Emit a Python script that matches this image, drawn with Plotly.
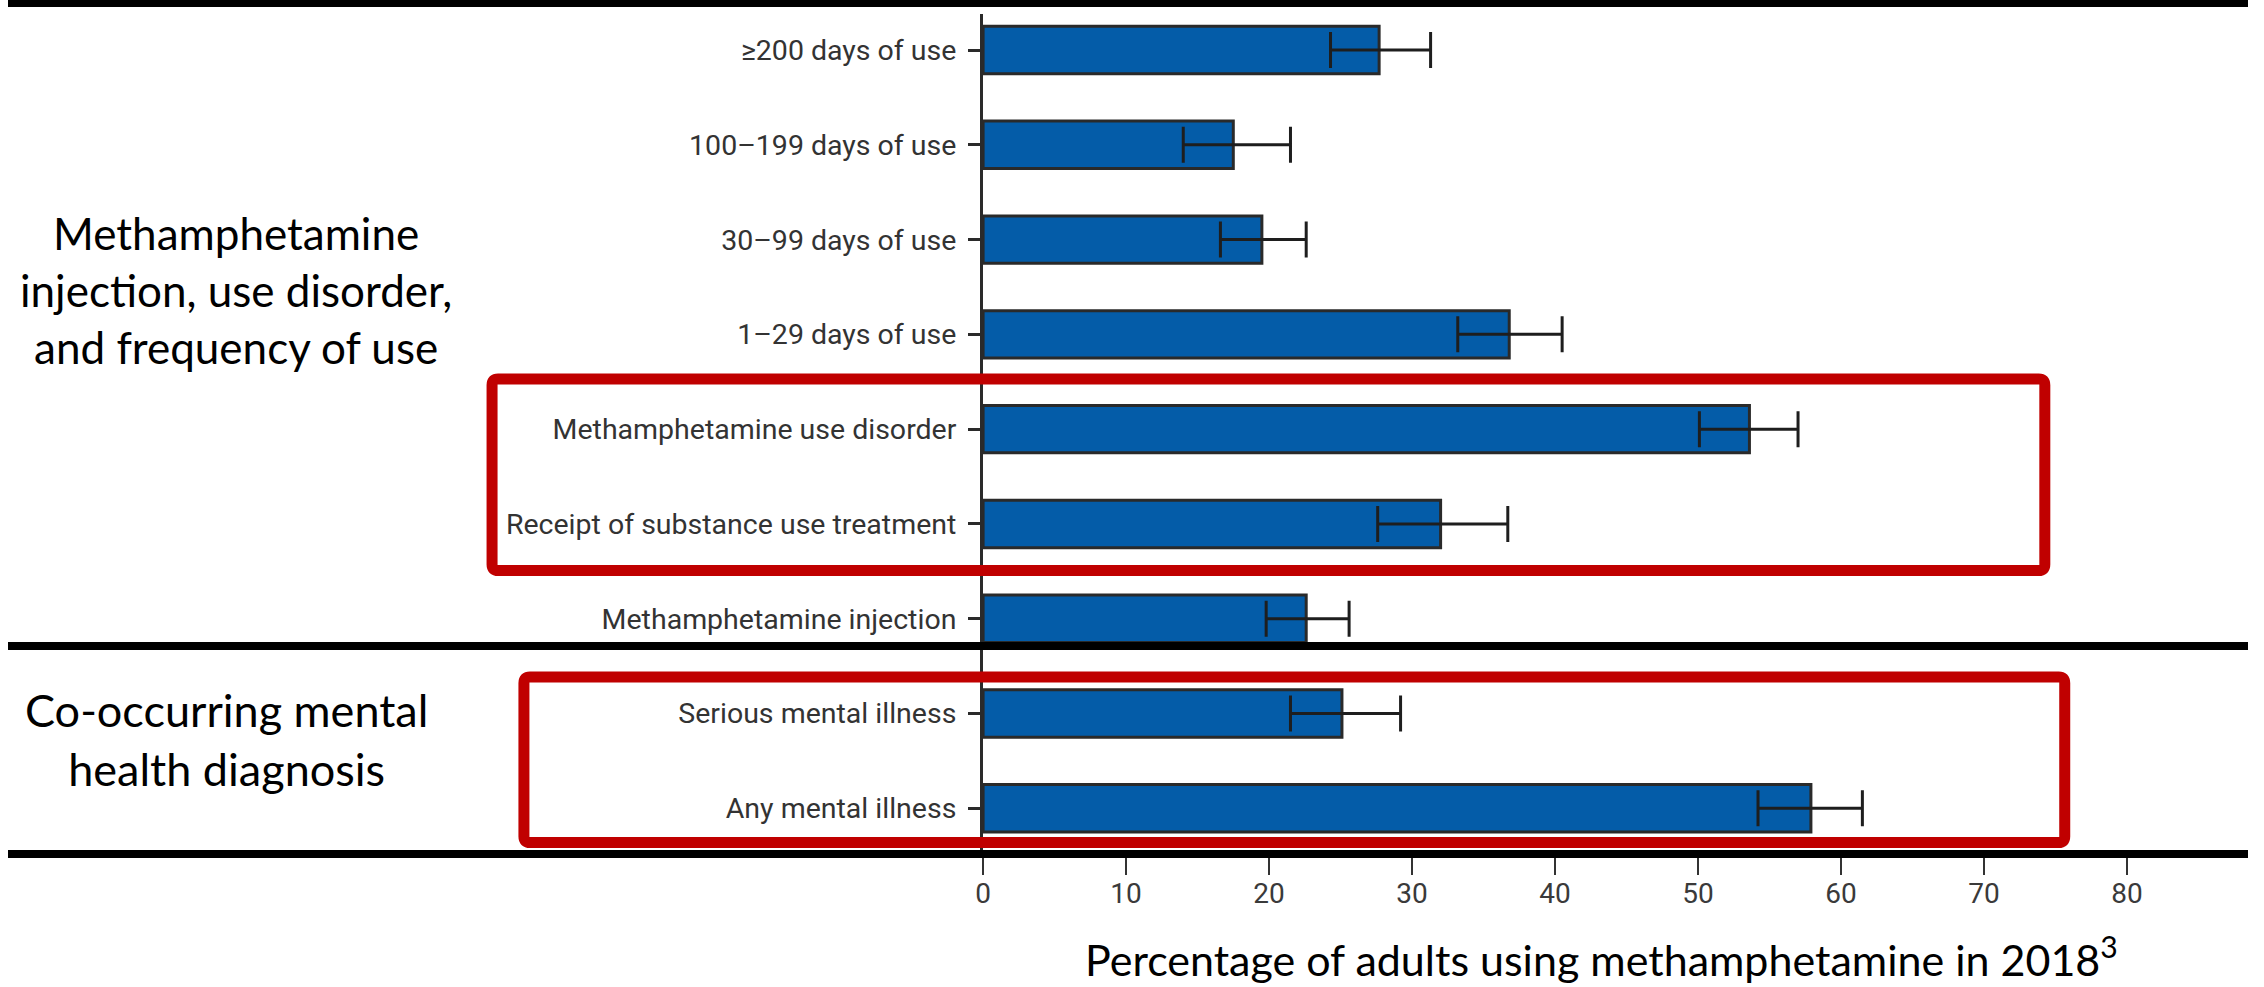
import plotly.graph_objects as go

# ---------------- data ----------------
categories = [
    "≥200 days of use",
    "100–199 days of use",
    "30–99 days of use",
    "1–29 days of use",
    "Methamphetamine use disorder",
    "Receipt of substance use treatment",
    "Methamphetamine injection",
    "Serious mental illness",
    "Any mental illness",
]
values = [27.7, 17.5, 19.5, 36.8, 53.6, 32.0, 22.6, 25.1, 57.9]
ci_low = [24.3, 14.0, 16.6, 33.2, 50.1, 27.6, 19.8, 21.5, 54.2]
ci_high = [31.3, 21.5, 22.6, 40.5, 57.0, 36.7, 25.6, 29.2, 61.5]
x_ticks = [0, 10, 20, 30, 40, 50, 60, 70, 80]
group_labels = [
    "Methamphetamine<br>injection, use disorder,<br>and frequency of use",
    "Co-occurring mental<br>health diagnosis",
]
x_title = "Percentage of adults using methamphetamine in 2018<sup>3</sup>"

# ---------------- layout helpers ----------------
W, H = 2264, 987
WX = 2249  # effective drawn width observed in the viewer


def px_x(x):
    return x / WX


def px_y(y):
    return 1 - y / H


NARROW = "Roboto, Liberation Sans, sans-serif"
HUMAN = "Lato, Open Sans, sans-serif"

err_plus = [h - v for h, v in zip(ci_high, values)]
err_minus = [v - l for v, l in zip(values, ci_low)]

fig = go.Figure()
fig.add_trace(
    go.Bar(
        y=categories,
        x=values,
        orientation="h",
        width=0.5,
        marker=dict(color="#045CA8", line=dict(color="#2a2a2a", width=3)),
        error_x=dict(
            type="data",
            symmetric=False,
            array=err_plus,
            arrayminus=err_minus,
            color="#1e1e1e",
            thickness=3,
            width=18,
        ),
        hoverinfo="skip",
    )
)

shapes = []
# black separator lines
for yc, th in [(3.5, 7), (646, 8), (854, 8)]:
    shapes.append(
        dict(
            type="line",
            xref="paper",
            yref="paper",
            x0=0,
            x1=1,
            y0=px_y(yc),
            y1=px_y(yc),
            line=dict(color="#000000", width=th),
            layer="above",
        )
    )


def rounded_box(x0, y0, x1, y1, r=6):
    X0, X1 = px_x(x0), px_x(x1)
    Y0, Y1 = px_y(y0), px_y(y1)
    rx, ry = r / WX, r / H
    return (
        f"M {X0+rx},{Y0} L {X1-rx},{Y0} Q {X1},{Y0} {X1},{Y0-ry} "
        f"L {X1},{Y1+ry} Q {X1},{Y1} {X1-rx},{Y1} "
        f"L {X0+rx},{Y1} Q {X0},{Y1} {X0},{Y1+ry} "
        f"L {X0},{Y0-ry} Q {X0},{Y0} {X0+rx},{Y0} Z"
    )


for box in [(486, 379, 2045, 570.5), (518, 677, 2065, 842.5)]:
    shapes.append(
        dict(
            type="path",
            xref="paper",
            yref="paper",
            path=rounded_box(*box),
            line=dict(color="#C00000", width=11),
            layer="above",
        )
    )

annotations = [
    dict(
        text=group_labels[0],
        xref="paper",
        yref="paper",
        x=px_x(229),
        y=px_y(290),
        xanchor="center",
        yanchor="middle",
        showarrow=False,
        align="center",
        font=dict(family=HUMAN, size=44, color="#000000"),
    ),
    dict(
        text=group_labels[1],
        xref="paper",
        yref="paper",
        x=px_x(219),
        y=px_y(739),
        xanchor="center",
        yanchor="middle",
        showarrow=False,
        align="center",
        font=dict(family=HUMAN, size=45, color="#000000"),
    ),
    dict(
        text=x_title,
        xref="paper",
        yref="paper",
        x=px_x(1600),
        y=0,
        xanchor="center",
        yanchor="bottom",
        showarrow=False,
        font=dict(family=HUMAN, size=43, color="#000000"),
    ),
]

top_px, bot_px = 14, 854
c0, c8 = 50, 808.3
step = (c8 - c0) / 8
r_top = (top_px - c0) / step
r_bot = (bot_px - c0) / step

fig.update_layout(
    width=W,
    height=H,
    autosize=False,
    margin=dict(l=0, r=0, t=0, b=0),
    paper_bgcolor="white",
    plot_bgcolor="white",
    showlegend=False,
    bargap=0.5,
    xaxis=dict(
        domain=[px_x(979), px_x(2127.4)],
        range=[0, 80],
        tickvals=x_ticks,
        ticktext=[str(t) for t in x_ticks],
        ticks="outside",
        ticklen=20,
        tickwidth=2,
        tickcolor="#333333",
        showline=False,
        showgrid=False,
        zeroline=False,
        ticklabelstandoff=-6,
        tickfont=dict(family=NARROW, size=28, color="#3a3a3a"),
    ),
    yaxis=dict(
        domain=[px_y(bot_px), px_y(top_px)],
        categoryorder="array",
        categoryarray=categories,
        range=[r_bot, r_top],
        showline=True,
        linecolor="#2a2a2a",
        linewidth=3,
        ticks="outside",
        ticklen=12,
        tickwidth=3,
        tickcolor="#2a2a2a",
        showgrid=False,
        zeroline=False,
        ticklabelstandoff=6,
        tickfont=dict(family=NARROW, size=28.5, color="#333333"),
    ),
    shapes=shapes,
    annotations=annotations,
)

fig.write_html(
    "out.html",
    config={"displayModeBar": False, "responsive": False},
    post_script=(
        "document.documentElement.style.margin='0';"
        "document.body.style.margin='0';document.body.style.padding='0';"
        "document.documentElement.style.overflow='hidden';"
        "document.body.style.overflow='hidden';"
    ),
)
